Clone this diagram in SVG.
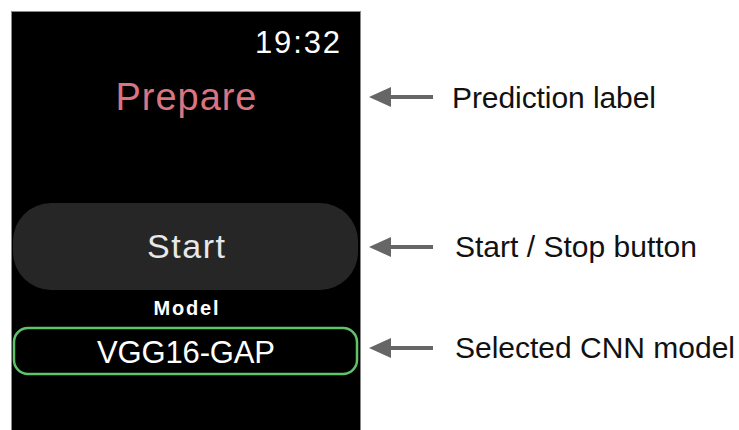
<svg xmlns="http://www.w3.org/2000/svg" width="739" height="430" viewBox="0 0 739 430">
<style>
.lbl{font-family:"Liberation Sans",Arial,sans-serif;font-size:30px;fill:#111}
.scr{font-family:"Liberation Sans",Arial,sans-serif}
.arrow{stroke:#666;stroke-width:4;fill:none}
</style>
<defs>
<marker id="ah" markerWidth="5.5" markerHeight="5" refX="0.5" refY="2.5" orient="auto" markerUnits="strokeWidth">
<path d="M0,0 L5.5,2.5 L0,5 Z" fill="#666"/>
</marker>
</defs>
<rect width="739" height="430" fill="#fff"/>
<g id="screen">
<rect x="11.5" y="11.5" width="349" height="430" fill="#000" stroke="#888" stroke-width="1"/>
</g>
<g id="time">
<text class="scr" x="340" y="53" text-anchor="end" font-size="31" fill="#fff" textLength="85">19:32</text>
</g>
<g id="prediction">
<text class="scr" x="186" y="110" text-anchor="middle" font-size="38" fill="#d97480" textLength="141">Prepare</text>
</g>
<g id="start-button">
<rect x="13" y="203" width="345" height="87" rx="38" fill="#262626"/>
<text class="scr" x="186" y="258" text-anchor="middle" font-size="34" fill="#e8e8e8" textLength="78">Start</text>
</g>
<g id="model-title">
<text class="scr" x="186" y="315" text-anchor="middle" font-size="20" font-weight="bold" fill="#fff" textLength="65">Model</text>
</g>
<g id="model-box">
<rect x="14" y="328" width="343" height="46" rx="14" fill="#000" stroke="#5dc46c" stroke-width="2.5"/>
<text class="scr" x="186" y="363" text-anchor="middle" font-size="31" fill="#fff" textLength="178">VGG16-GAP</text>
</g>
<g id="connectors">
<line class="arrow" x1="433" y1="97" x2="389" y2="97" marker-end="url(#ah)"/>
<line class="arrow" x1="433" y1="247" x2="389" y2="247" marker-end="url(#ah)"/>
<line class="arrow" x1="433" y1="348" x2="389" y2="348" marker-end="url(#ah)"/>
</g>
<g id="label-prediction"><text class="lbl" x="452" y="108" textLength="204">Prediction label</text></g>
<g id="label-start"><text class="lbl" x="455" y="257" textLength="242">Start / Stop button</text></g>
<g id="label-model"><text class="lbl" x="455" y="358" textLength="280">Selected CNN model</text></g>
</svg>
